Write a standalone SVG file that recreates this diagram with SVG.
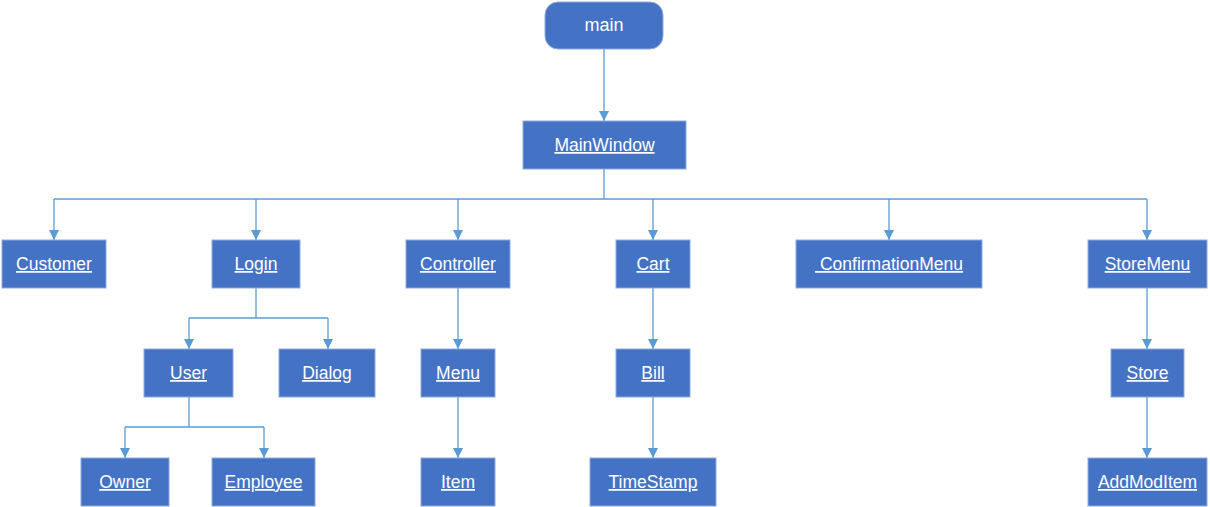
<svg xmlns="http://www.w3.org/2000/svg" width="1210" height="507" viewBox="0 0 1210 507">
<defs>
<marker id="arr" viewBox="0 0 10 10" refX="10" refY="5" markerWidth="10" markerHeight="10" markerUnits="userSpaceOnUse" orient="auto">
<path d="M0,0 L10,5 L0,10 z" fill="#5B9BD5"/>
</marker>
<style>
.box{fill:#4472C4;stroke:#8FAADC;stroke-width:1}
.t{font-family:"Liberation Sans",Arial,sans-serif;font-size:17.5px;fill:#fff;text-anchor:middle;text-decoration:underline;white-space:pre}
.m{font-family:"Liberation Sans",Arial,sans-serif;font-size:18px;fill:#fff;text-anchor:middle}
.c{fill:none;stroke:#5B9BD5;stroke-width:1.3}
</style>
</defs>
<rect width="1210" height="507" fill="#fff"/>
<g id="connectors">
<path class="c" d="M604,49 V121" marker-end="url(#arr)"/>
<path class="c" d="M604,169 V199"/>
<path class="c" d="M54,199 H1147"/>
<path class="c" d="M54,199 V240" marker-end="url(#arr)"/>
<path class="c" d="M256,199 V240" marker-end="url(#arr)"/>
<path class="c" d="M458,199 V240" marker-end="url(#arr)"/>
<path class="c" d="M653,199 V240" marker-end="url(#arr)"/>
<path class="c" d="M889,199 V240" marker-end="url(#arr)"/>
<path class="c" d="M1147,199 V240" marker-end="url(#arr)"/>
<path class="c" d="M256,288 V318 M189,318 H328"/>
<path class="c" d="M189,318 V349" marker-end="url(#arr)"/>
<path class="c" d="M328,318 V349" marker-end="url(#arr)"/>
<path class="c" d="M189,397 V427 M125,427 H264"/>
<path class="c" d="M125,427 V458" marker-end="url(#arr)"/>
<path class="c" d="M264,427 V458" marker-end="url(#arr)"/>
<path class="c" d="M458,288 V349" marker-end="url(#arr)"/>
<path class="c" d="M458,397 V458" marker-end="url(#arr)"/>
<path class="c" d="M653,288 V349" marker-end="url(#arr)"/>
<path class="c" d="M653,397 V458" marker-end="url(#arr)"/>
<path class="c" d="M1147,288 V349" marker-end="url(#arr)"/>
<path class="c" d="M1147,397 V458" marker-end="url(#arr)"/>
</g>
<g id="main"><rect class="box" x="545" y="2" width="118" height="47" rx="13"/><text class="m" x="604" y="31">main</text></g>
<g id="MainWindow"><rect class="box" x="523" y="121" width="163" height="48"/><text class="t" x="604.5" y="151">MainWindow</text></g>
<g id="Customer"><rect class="box" x="2" y="240" width="104" height="48"/><text class="t" x="54" y="270">Customer</text></g>
<g id="Login"><rect class="box" x="212" y="240" width="88" height="48"/><text class="t" x="256" y="270">Login</text></g>
<g id="Controller"><rect class="box" x="406" y="240" width="104" height="48"/><text class="t" x="458" y="270">Controller</text></g>
<g id="Cart"><rect class="box" x="616" y="240" width="74" height="48"/><text class="t" x="653" y="270">Cart</text></g>
<g id="ConfirmationMenu"><rect class="box" x="796" y="240" width="186" height="48"/><text class="t" x="889" y="270" xml:space="preserve"> ConfirmationMenu</text></g>
<g id="StoreMenu"><rect class="box" x="1088" y="240" width="119" height="48"/><text class="t" x="1147.5" y="270">StoreMenu</text></g>
<g id="User"><rect class="box" x="144" y="349" width="89" height="48"/><text class="t" x="188.5" y="379">User</text></g>
<g id="Dialog"><rect class="box" x="279" y="349" width="96" height="48"/><text class="t" x="327" y="379">Dialog</text></g>
<g id="Menu"><rect class="box" x="421" y="349" width="74" height="48"/><text class="t" x="458" y="379">Menu</text></g>
<g id="Bill"><rect class="box" x="616" y="349" width="74" height="48"/><text class="t" x="653" y="379">Bill</text></g>
<g id="Store"><rect class="box" x="1111" y="349" width="73" height="48"/><text class="t" x="1147.5" y="379">Store</text></g>
<g id="Owner"><rect class="box" x="81" y="458" width="88" height="48"/><text class="t" x="125" y="488">Owner</text></g>
<g id="Employee"><rect class="box" x="212" y="458" width="103" height="48"/><text class="t" x="263.5" y="488">Employee</text></g>
<g id="Item"><rect class="box" x="421" y="458" width="74" height="48"/><text class="t" x="458" y="488">Item</text></g>
<g id="TimeStamp"><rect class="box" x="590" y="458" width="126" height="48"/><text class="t" x="653" y="488">TimeStamp</text></g>
<g id="AddModItem"><rect class="box" x="1088" y="458" width="119" height="48"/><text class="t" x="1147.5" y="488">AddModItem</text></g>
</svg>
